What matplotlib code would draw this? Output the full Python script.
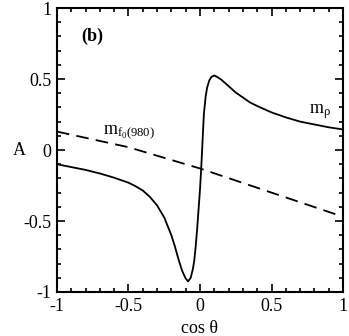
import matplotlib
matplotlib.use("Agg")
import matplotlib.pyplot as plt
from matplotlib.ticker import MultipleLocator

plt.rcParams['font.family'] = ['Liberation Serif', 'DejaVu Serif']
plt.rcParams['mathtext.fontset'] = 'custom'
plt.rcParams['mathtext.rm'] = 'Liberation Serif'
plt.rcParams['mathtext.it'] = 'Liberation Serif:italic'

# m_rho curve (solid)
rho_cos = [-1.0, -0.9, -0.8, -0.7, -0.6, -0.5, -0.45, -0.4, -0.35, -0.3, -0.25,
           -0.2, -0.175, -0.15, -0.125, -0.1, -0.083, -0.065, -0.05, -0.04, -0.03,
           -0.02, -0.01, 0.0, 0.008, 0.015, 0.027, 0.04, 0.05, 0.065, 0.08, 0.1,
           0.12, 0.15, 0.2, 0.25, 0.3, 0.35, 0.4, 0.5, 0.6, 0.7, 0.8, 0.9, 1.0]
rho_A = [-0.10, -0.12, -0.14, -0.165, -0.195, -0.23, -0.255, -0.285, -0.33, -0.39, -0.475,
         -0.60, -0.68, -0.77, -0.85, -0.905, -0.925, -0.90, -0.84, -0.78, -0.68,
         -0.56, -0.42, -0.28, -0.14, 0.0, 0.25, 0.38, 0.44, 0.49, 0.515, 0.525,
         0.515, 0.495, 0.45, 0.405, 0.37, 0.335, 0.31, 0.265, 0.23, 0.20, 0.18, 0.16, 0.145]

# m_f0(980) curve (dashed)
f0_cos = [-1.0, -0.5, 0.0, 0.5, 1.0]
f0_A = [0.13, 0.02, -0.13, -0.30, -0.47]

xticks = [-1, -0.5, 0, 0.5, 1]
xtick_labels = ['-1', '-0.5', '0', '0.5', '1']
yticks = [-1, -0.5, 0, 0.5, 1]
ytick_labels = ['-1', '-0.5', '0', '0.5', '1']

fig = plt.figure(figsize=(3.49, 3.36), dpi=100)
ax = fig.add_axes([0.163, 0.131, 0.820, 0.845])

ax.plot(rho_cos, rho_A, color='black', lw=1.3, solid_joinstyle='round')
ax.plot(f0_cos, f0_A, color='black', lw=1.3, dashes=(7, 4))

ax.set_xlim(-1, 1)
ax.set_ylim(-1, 1)
ax.set_xticks(xticks)
ax.set_xticklabels(xtick_labels)
ax.set_yticks(yticks)
ax.set_yticklabels(ytick_labels)
ax.xaxis.set_minor_locator(MultipleLocator(0.1))
ax.yaxis.set_minor_locator(MultipleLocator(0.1))
ax.tick_params(which='both', direction='in', top=True, right=True, labelsize=13, width=1.2)
ax.tick_params(which='major', length=6, pad=4)
ax.tick_params(which='minor', length=3)
for s in ax.spines.values():
    s.set_linewidth(1.5)

ax.set_xlabel('cos θ', fontsize=13, labelpad=4)
ax.set_ylabel('A', fontsize=13, rotation=0, labelpad=3, va='center')

ax.text(-0.83, 0.80, '(b)', fontsize=13, fontweight='bold', va='center', ha='left')
ax.text(0.76, 0.27, r'm$_\mathrm{ρ}$', fontsize=13, va='center', ha='left')
ax.text(-0.68, 0.125, r'm$_{\mathrm{f}_0\mathrm{(980)}}$', fontsize=13, va='center', ha='left')

fig.savefig('out.png', dpi=100)
